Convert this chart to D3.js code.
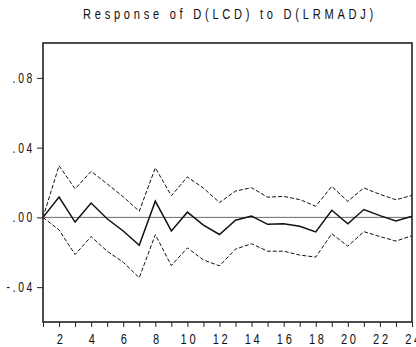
<!DOCTYPE html>
<html>
<head>
<meta charset="utf-8">
<script src="https://cdn.jsdelivr.net/npm/d3@7"></script>
<style>
  html, body { margin: 0; padding: 0; background: #fff; }
  svg text { font-family: "Liberation Sans", Arial, sans-serif; fill: #111; }
</style>
</head>
<body>
<svg id="chart" width="416" height="347"></svg>
<script>
// Impulse response of D(LCD) to a shock in D(LRMADJ), with ±2 S.E. bands
const periods = d3.range(1, 25);
const response = [0, 0.0116, -0.0027, 0.0082, -0.0008, -0.0078, -0.0160, 0.0093,
  -0.0078, 0.0030, -0.0044, -0.0098, -0.0016, 0.0008, -0.0040, -0.0037,
  -0.0051, -0.0083, 0.0041, -0.0037, 0.0045, 0.0010, -0.0020, 0.0006];
const upperBand = [0, 0.0296, 0.0164, 0.0264, 0.0192, 0.0118, 0.0035, 0.0284,
  0.0124, 0.0232, 0.0168, 0.0085, 0.0151, 0.0170, 0.0116, 0.0120,
  0.0102, 0.0064, 0.0178, 0.0092, 0.0169, 0.0132, 0.0101, 0.0126];
const lowerBand = [0, -0.0072, -0.0213, -0.0110, -0.0194, -0.0257, -0.0346, -0.0099,
  -0.0276, -0.0175, -0.0244, -0.0278, -0.0182, -0.0151, -0.0194, -0.0194,
  -0.0216, -0.0228, -0.0094, -0.0165, -0.0082, -0.0110, -0.0136, -0.0105];
const yTicks = [0.08, 0.04, 0.00, -0.04];
const xLabelTicks = [2, 4, 6, 8, 10, 12, 14, 16, 18, 20, 22, 24];
const title = "Response of D(LCD) to D(LRMADJ)";

const svg = d3.select("#chart");
const m = { left: 43, right: 412, top: 43, bottom: 322 };

const x = d3.scaleLinear().domain([1, 24]).range([m.left, m.right]);
const y = d3.scaleLinear().domain([-0.06, 0.10]).range([m.bottom, m.top]);

const fmt = v => {
  const s = d3.format(".2f")(Math.abs(v)).replace(/^0/, "");
  return (v < 0 ? "-" : "") + s;
};

// Condensed, letter-spaced lettering
const squeeze = 0.74;

// Title
svg.append("text")
  .attr("transform", `translate(230,19) scale(${squeeze},1)`)
  .attr("text-anchor", "middle")
  .attr("font-size", 15)
  .attr("letter-spacing", "5px")
  .attr("textLength", 294 / squeeze)
  .attr("lengthAdjust", "spacing")
  .text(title);

// Zero reference line
svg.append("line")
  .attr("x1", m.left).attr("x2", m.right)
  .attr("y1", y(0)).attr("y2", y(0))
  .attr("stroke", "#6a6a6a").attr("stroke-width", 1);

// Left axis
const yAxis = d3.axisLeft(y).tickValues(yTicks).tickSize(6).tickPadding(4).tickFormat(fmt);
const gy = svg.append("g").attr("transform", `translate(${m.left},0)`).call(yAxis);
gy.select(".domain").remove();
gy.selectAll(".tick line").attr("stroke", "#222");
gy.selectAll(".tick text")
  .attr("x", 0)
  .attr("transform", `translate(-8,0) scale(${squeeze},1)`)
  .attr("font-size", 14)
  .attr("letter-spacing", "3.6px")
  .attr("font-family", null)
  .attr("fill", "#111");

// Bottom axis: tick at every period, labels on even periods
const xAxis = d3.axisBottom(x).tickValues(periods).tickSize(5).tickPadding(6)
  .tickFormat(d => xLabelTicks.includes(d) ? d : "");
const gx = svg.append("g").attr("transform", `translate(0,${m.bottom})`).call(xAxis);
gx.select(".domain").remove();
gx.selectAll(".tick line").attr("stroke", "#222");
gx.selectAll(".tick text")
  .attr("transform", `translate(1.5,0) scale(${squeeze},1)`)
  .attr("font-size", 15)
  .attr("letter-spacing", "3.6px")
  .attr("font-family", null)
  .attr("fill", "#111");

// Confidence bands and response
const line = d3.line().x((d, i) => x(periods[i])).y(d => y(d));

svg.append("path").datum(upperBand)
  .attr("d", line).attr("fill", "none")
  .attr("stroke", "#111").attr("stroke-width", 1).attr("stroke-dasharray", "4,2");
svg.append("path").datum(lowerBand)
  .attr("d", line).attr("fill", "none")
  .attr("stroke", "#111").attr("stroke-width", 1).attr("stroke-dasharray", "4,2");
svg.append("path").datum(response)
  .attr("d", line).attr("fill", "none")
  .attr("stroke", "#111").attr("stroke-width", 1.5);

// Plot frame
svg.append("rect")
  .attr("x", m.left).attr("y", m.top)
  .attr("width", m.right - m.left).attr("height", m.bottom - m.top)
  .attr("fill", "none").attr("stroke", "#222").attr("stroke-width", 1.6);
</script>
</body>
</html>
